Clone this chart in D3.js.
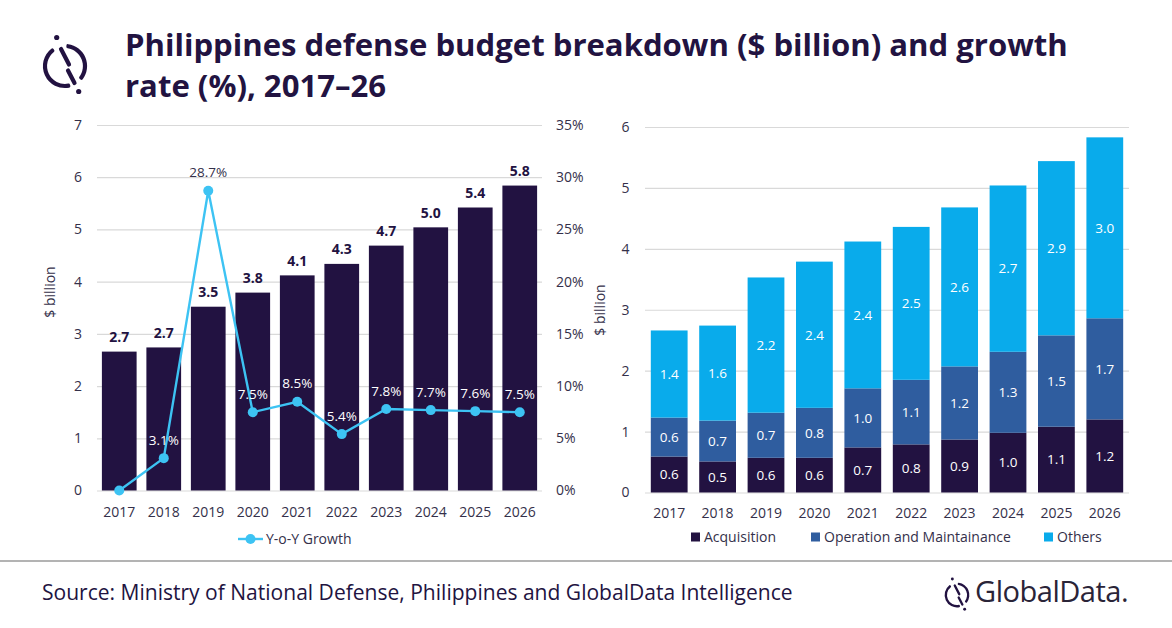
<!DOCTYPE html>
<html>
<head>
<meta charset="utf-8">
<script src="https://cdn.jsdelivr.net/npm/d3@7"></script>
<style>
  html, body { margin: 0; padding: 0; background: #ffffff; }
  svg { display: block; }
  text { font-family: "Open Sans", "Noto Sans", sans-serif; }
</style>
</head>
<body>
<svg id="chart" width="1172" height="628"></svg>
<script>
// ---------- data ----------
const years = ["2017", "2018", "2019", "2020", "2021", "2022", "2023", "2024", "2025", "2026"];
const totalBudget = [2.66, 2.74, 3.52, 3.79, 4.12, 4.34, 4.69, 5.04, 5.42, 5.84];
const growthRate = [0, 3.1, 28.7, 7.5, 8.5, 5.4, 7.8, 7.7, 7.6, 7.5];
const acquisition = [0.59, 0.51, 0.57, 0.57, 0.74, 0.79, 0.87, 0.98, 1.08, 1.20];
const operationMaintenance = [0.64, 0.67, 0.74, 0.82, 0.97, 1.06, 1.20, 1.33, 1.50, 1.66];
const others = [1.43, 1.56, 2.22, 2.40, 2.41, 2.51, 2.61, 2.73, 2.86, 2.97];
const leftTicks = [0, 1, 2, 3, 4, 5, 6, 7];
const pctTicks = [0, 5, 10, 15, 20, 25, 30, 35];
const rightTicks = [0, 1, 2, 3, 4, 5, 6];
const seriesNames = ["Acquisition", "Operation and Maintainance", "Others"];
const lineName = "Y-o-Y Growth";
const titleLines = ["Philippines defense budget breakdown ($ billion) and growth", "rate (%), 2017\u201326"];
const sourceText = "Source: Ministry of National Defense, Philippines and GlobalData Intelligence";

// ---------- style ----------
const C = {
  dark: "#221241",
  om: "#2F5D9F",
  others: "#09ABEB",
  line: "#3DC3F3",
  grid: "#D9D9D9",
  axisText: "#34304A",
  title: "#221341"
};
const FS = 14;     // axis / legend text
const LFS = 13.5;  // data labels

const svg = d3.select("#chart");
svg.append("rect").attr("width", 1172).attr("height", 628).attr("fill", "#fff");

function fitWidth(sel, target) {
  const w = sel.node().getComputedTextLength();
  const fs = parseFloat(sel.attr("font-size"));
  sel.attr("font-size", (fs * target / w).toFixed(2));
  return fs * target / w;
}

// ---------- logo ----------
function drawLogo(g) {
  const r = 20, w = 4.2;
  const arc = d3.arc().innerRadius(r - w / 2).outerRadius(r + w / 2).cornerRadius(1.5);
  const deg = Math.PI / 180;
  g.append("path").attr("d", arc({startAngle: 165 * deg, endAngle: 326 * deg})).attr("fill", C.dark);
  g.append("path").attr("d", arc({startAngle: 4 * deg, endAngle: 131 * deg})).attr("fill", C.dark);
  g.append("line").attr("x1", -4).attr("y1", -17).attr("x2", 4).attr("y2", -1.5)
    .attr("stroke", C.dark).attr("stroke-width", w).attr("stroke-linecap", "round");
  g.append("line").attr("x1", 3).attr("y1", 4.5).attr("x2", 9.5).attr("y2", 17)
    .attr("stroke", C.dark).attr("stroke-width", w).attr("stroke-linecap", "round");
  g.append("circle").attr("cx", -8.3).attr("cy", -28.5).attr("r", 2.6).attr("fill", C.dark);
  g.append("circle").attr("cx", 13.7).attr("cy", 25.5).attr("r", 2.6).attr("fill", C.dark);
}
drawLogo(svg.append("g").attr("transform", "translate(65,66)"));

// ---------- title ----------
const t1 = svg.append("text").attr("x", 125).attr("y", 56).attr("font-size", 30)
  .attr("font-weight", 700).attr("fill", C.title).text(titleLines[0]);
const tfs = fitWidth(t1, 943);
svg.append("text").attr("x", 125).attr("y", 97).attr("font-size", tfs.toFixed(2))
  .attr("font-weight", 700).attr("fill", C.title).text(titleLines[1]);

// ---------- left chart ----------
const L = svg.append("g");
const xL = d3.scaleBand().domain(years).range([97, 542]).paddingInner(0.22).paddingOuter(0.11);
const yL = d3.scaleLinear().domain([0, 7]).range([490.5, 125]);
const yP = d3.scaleLinear().domain([0, 35]).range([490.5, 125]);

function styleText(g) {
  g.selectAll(".tick text").attr("fill", C.axisText).attr("font-size", FS)
    .attr("font-family", "'Open Sans', sans-serif");
}

L.append("g").attr("transform", "translate(97,0)")
  .call(d3.axisLeft(yL).tickValues(leftTicks).tickSize(-445).tickPadding(15).tickFormat(d3.format("d")))
  .call(g => g.select(".domain").remove())
  .call(g => g.selectAll(".tick line").attr("stroke", C.grid).attr("stroke-width", 1.2))
  .call(styleText);

L.append("g").attr("transform", "translate(542,0)")
  .call(d3.axisRight(yP).tickValues(pctTicks).tickSize(0).tickPadding(14).tickFormat(d => d + "%"))
  .call(g => g.select(".domain").remove())
  .call(styleText);

L.append("g").attr("transform", "translate(0,490.5)")
  .call(d3.axisBottom(xL).tickSize(0))
  .call(g => g.select(".domain").remove())
  .call(styleText)
  .call(g => g.selectAll(".tick text").attr("dy", null).attr("y", 26));

L.append("text").attr("transform", "translate(55,292) rotate(-90)").attr("text-anchor", "middle")
  .attr("font-size", FS).attr("fill", C.axisText).text("$ billion");

const leftData = years.map((y, i) => ({year: y, total: totalBudget[i], growth: growthRate[i]}));

L.selectAll("rect.bar").data(leftData).join("rect").attr("class", "bar")
  .attr("x", d => xL(d.year)).attr("width", xL.bandwidth())
  .attr("y", d => yL(d.total)).attr("height", d => yL(0) - yL(d.total))
  .attr("fill", C.dark);

L.selectAll("text.tot").data(leftData).join("text").attr("class", "tot")
  .attr("x", d => xL(d.year) + xL.bandwidth() / 2).attr("y", d => yL(d.total) - 9.5)
  .attr("text-anchor", "middle").attr("font-size", FS).attr("font-weight", 700)
  .attr("fill", C.dark).text(d => d.total.toFixed(1));

const cx = d => xL(d.year) + xL.bandwidth() / 2;
L.append("path").datum(leftData)
  .attr("d", d3.line().x(cx).y(d => yP(d.growth)))
  .attr("fill", "none").attr("stroke", C.line).attr("stroke-width", 2.4);
L.selectAll("circle.pt").data(leftData).join("circle").attr("class", "pt")
  .attr("cx", cx).attr("cy", d => yP(d.growth)).attr("r", 5).attr("fill", C.line);
L.selectAll("text.gr").data(leftData.filter(d => d.growth > 0)).join("text").attr("class", "gr")
  .attr("x", cx).attr("y", d => yP(d.growth) - 13.5)
  .attr("text-anchor", "middle").attr("font-size", LFS)
  .attr("fill", d => (yP(d.growth) - 20 > yL(d.total)) ? "#ffffff" : C.axisText)
  .text(d => d.growth.toFixed(1) + "%");

// left legend
L.append("line").attr("x1", 238).attr("x2", 263).attr("y1", 539).attr("y2", 539)
  .attr("stroke", C.line).attr("stroke-width", 2.4);
L.append("circle").attr("cx", 250.5).attr("cy", 539).attr("r", 5).attr("fill", C.line);
L.append("text").attr("x", 266).attr("y", 544).attr("font-size", FS).attr("fill", C.axisText).text(lineName);

// ---------- right chart ----------
const R = svg.append("g");
const xR = d3.scaleBand().domain(years).range([645, 1129]).paddingInner(0.24).paddingOuter(0.12);
const yR = d3.scaleLinear().domain([0, 6]).range([492.5, 127]);

R.append("g").attr("transform", "translate(645,0)")
  .call(d3.axisLeft(yR).tickValues(rightTicks).tickSize(-484).tickPadding(15.5).tickFormat(d3.format("d")))
  .call(g => g.select(".domain").remove())
  .call(g => g.selectAll(".tick line").attr("stroke", C.grid).attr("stroke-width", 1.2))
  .call(styleText);

R.append("g").attr("transform", "translate(0,492.5)")
  .call(d3.axisBottom(xR).tickSize(0))
  .call(g => g.select(".domain").remove())
  .call(styleText)
  .call(g => g.selectAll(".tick text").attr("dy", null).attr("y", 25.5));

R.append("text").attr("transform", "translate(605,310) rotate(-90)").attr("text-anchor", "middle")
  .attr("font-size", FS).attr("fill", C.axisText).text("$ billion");

const stackRows = years.map((y, i) => ({
  year: y, a: acquisition[i], o: operationMaintenance[i], s: others[i]
}));
const keys = ["a", "o", "s"];
const colors = [C.dark, C.om, C.others];
const stacked = d3.stack().keys(keys)(stackRows);

const layers = R.selectAll("g.layer").data(stacked).join("g").attr("class", "layer")
  .attr("fill", (d, i) => colors[i]);
layers.selectAll("rect").data(d => d).join("rect")
  .attr("x", d => xR(d.data.year)).attr("width", xR.bandwidth())
  .attr("y", d => yR(d[1])).attr("height", d => yR(d[0]) - yR(d[1]));

stacked.forEach(layer => {
  R.append("g").selectAll("text").data(layer).join("text")
    .attr("x", d => xR(d.data.year) + xR.bandwidth() / 2)
    .attr("y", d => (yR(d[0]) + yR(d[1])) / 2 + 4.8)
    .attr("text-anchor", "middle").attr("font-size", LFS).attr("fill", "#ffffff")
    .text(d => (d[1] - d[0]).toFixed(1));
});

// right legend
const legendX = [691, 811, 1044];
seriesNames.forEach((n, i) => {
  R.append("rect").attr("x", legendX[i]).attr("y", 532.5).attr("width", 9).attr("height", 9).attr("fill", colors[i]);
  R.append("text").attr("x", legendX[i] + 13).attr("y", 542).attr("font-size", FS)
    .attr("fill", C.axisText).text(n);
});

// ---------- footer ----------
svg.append("line").attr("x1", 0).attr("x2", 1172).attr("y1", 561).attr("y2", 561)
  .attr("stroke", "#9a9a9a").attr("stroke-width", 1.5);
const src = svg.append("text").attr("x", 42).attr("y", 600).attr("font-size", 20)
  .attr("fill", C.title).text(sourceText);
fitWidth(src, 751);

drawLogo(svg.append("g").attr("transform", "translate(957,595) scale(0.56)"));
const gd = svg.append("text").attr("x", 975).attr("y", 602).attr("font-size", 24)
  .attr("font-family", "Inter, 'Open Sans', sans-serif").attr("font-weight", 500)
  .attr("letter-spacing", -0.5).attr("fill", "#2A2438").text("GlobalData.");
fitWidth(gd, 152);
</script>
</body>
</html>
